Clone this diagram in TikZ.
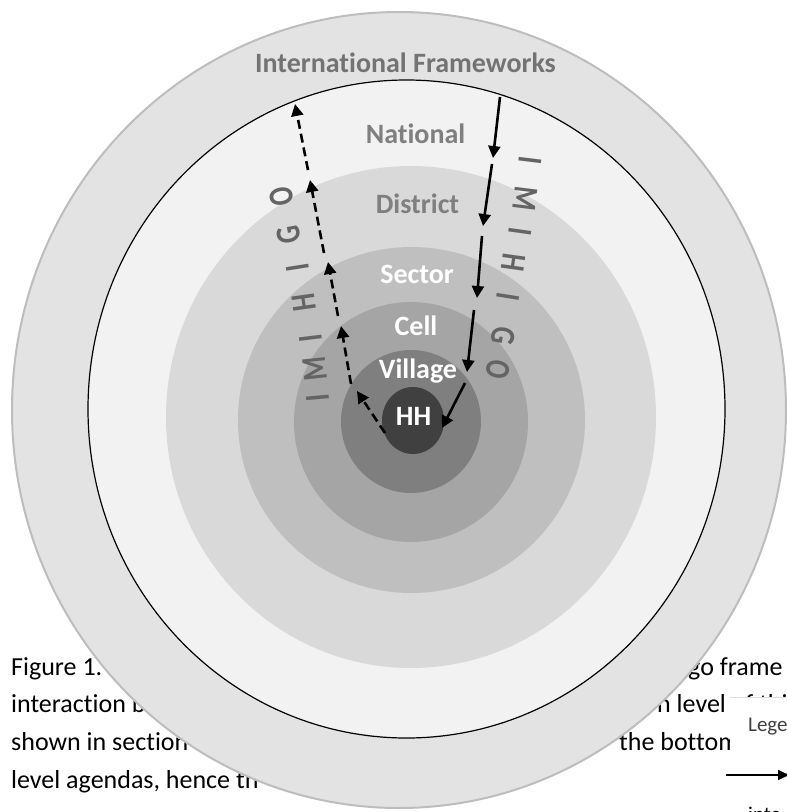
\documentclass[tikz,border=0pt]{standalone}
\usepackage{fontspec}
\setmainfont{Carlito}[Ligatures=NoCommon]
\usetikzlibrary{arrows.meta}
\definecolor{bandgray}{HTML}{E3E3E3}
\definecolor{bandedge}{HTML}{BDBDBD}
\definecolor{natgray}{HTML}{F2F2F2}
\definecolor{distgray}{HTML}{D9D9D9}
\definecolor{secgray}{HTML}{BFBFBF}
\definecolor{cellgray}{HTML}{A5A5A5}
\definecolor{villgray}{HTML}{7F7F7F}
\definecolor{hhgray}{HTML}{404040}
\definecolor{labgray}{HTML}{737373}
\definecolor{imigray}{HTML}{646464}
\definecolor{leggray}{HTML}{404040}
\begin{document}
\begin{tikzpicture}[x=1pt,y=1pt,
  body/.style={font=\fontsize{26}{30}\selectfont, text=black, anchor=base west, inner sep=0pt},
  lvl/.style={font=\bfseries\fontsize{28}{32}\selectfont, anchor=base, inner sep=0pt},
  uparrow/.style={line width=2.6pt, dash pattern=on 9pt off 5pt, -{Triangle[length=12pt,width=12pt]}},
  downarrow/.style={line width=2.6pt, -{Triangle[length=12pt,width=12pt]}},
  imi/.style={font=\bfseries\fontsize{35}{35}\selectfont, text=imigray, inner sep=0pt}]
\useasboundingbox (0,0) rectangle (787,-812);
% caption text behind the figure
\node[body] (t1) at (11,-675) {Figure 1.};
\node[body] (t2) at (11,-712) {interaction b};
\node[body] (t3) at (11,-750) {shown in section};
\node[body] (t4) at (11,-788) {level agendas, hence th};
\node[body] (r1) at (688,-675) {go frame};
\node[body] (r2) at (657,-712) {n level of thi};
\node[body] (r3) at (619,-750) {the bottom};
% rings
\fill[bandgray, draw=bandedge, line width=2pt] (399,-410) ellipse [x radius=387pt, y radius=398pt];
\fill[natgray, draw=black, line width=1.2pt] (406.5,-409) ellipse [x radius=318.5pt, y radius=329pt];
\fill[distgray] (411,-417) ellipse [x radius=245pt, y radius=251pt];
\fill[secgray] (411.5,-420) ellipse [x radius=173.5pt, y radius=173pt];
\fill[cellgray] (411,-422) ellipse [x radius=117pt, y radius=120pt];
\fill[villgray] (411,-421.5) ellipse [x radius=70pt, y radius=71.5pt];
\fill[hhgray] (413,-420.5) ellipse [x radius=31pt, y radius=33.5pt];
% level labels
\node[lvl, text=labgray] (intl) at (405.5,-72) {International Frameworks};
\node[lvl, text=villgray] (nat) at (415.5,-143) {National};
\node[lvl, text=villgray] (dist) at (417.5,-213) {District};
\node[lvl, text=white] (sec) at (417,-283) {Sector};
\node[lvl, text=white] (cell) at (416,-335) {Cell};
\node[lvl, text=white] (vill) at (418,-378) {Village};
\node[lvl, text=white] (hh) at (413.5,-425) {HH};
% upward (dashed) chain
\coordinate (a0) at (385,-433); \coordinate (a1) at (357,-391);
\coordinate (b0) at (351,-384); \coordinate (b1) at (341,-326);
\coordinate (c0) at (338,-316); \coordinate (c1) at (328,-262);
\coordinate (d0) at (324,-253); \coordinate (d1) at (310,-180);
\coordinate (e0) at (308,-170); \coordinate (e1) at (295,-104);
\draw[uparrow] (a0) -- (a1);
\draw[uparrow] (b0) -- (b1);
\draw[uparrow] (c0) -- (c1);
\draw[uparrow] (d0) -- (d1);
\draw[uparrow] (e0) -- (e1);
% downward (solid) chain
\coordinate (f0) at (500,-97);  \coordinate (f1) at (493,-158);
\coordinate (g0) at (492,-164); \coordinate (g1) at (483,-226);
\coordinate (h0) at (482,-236); \coordinate (h1) at (477,-298);
\coordinate (i0) at (474,-310); \coordinate (i1) at (467,-372);
\coordinate (j0) at (465,-383); \coordinate (j1) at (442,-428);
\draw[downarrow] (f0) -- (f1);
\draw[downarrow] (g0) -- (g1);
\draw[downarrow] (h0) -- (h1);
\draw[downarrow] (i0) -- (i1);
\draw[downarrow] (j0) -- (j1);
% IMIHIGO left (reading upward)
\node[imi, rotate=95] (li1) at (318,-398) {\scalebox{0.78}[1]{I}};
\node[imi, rotate=96] (lm) at (315,-369) {\scalebox{0.78}[1]{M}};
\node[imi, rotate=97] (li2) at (311,-338) {\scalebox{0.78}[1]{I}};
\node[imi, rotate=98] (lh) at (304,-303) {\scalebox{0.78}[1]{H}};
\node[imi, rotate=99] (li3) at (298,-268) {\scalebox{0.78}[1]{I}};
\node[imi, rotate=100] (lg) at (289,-235) {\scalebox{0.78}[1]{G}};
\node[imi, rotate=101] (lo) at (282,-197) {\scalebox{0.78}[1]{O}};
% IMIHIGO right (reading downward)
\node[imi, rotate=-97] (ri1) at (530,-160) {\scalebox{0.78}[1]{I}};
\node[imi, rotate=-97] (rm) at (525,-199) {\scalebox{0.78}[1]{M}};
\node[imi, rotate=-98] (ri2) at (520,-232) {\scalebox{0.78}[1]{I}};
\node[imi, rotate=-98] (rh) at (514,-263) {\scalebox{0.78}[1]{H}};
\node[imi, rotate=-99] (ri3) at (508,-297) {\scalebox{0.78}[1]{I}};
\node[imi, rotate=-99] (rg) at (503,-336) {\scalebox{0.78}[1]{G}};
\node[imi, rotate=-100] (ro) at (498,-370) {\scalebox{0.78}[1]{O}};
% legend box
\fill[white] (730,-697) rectangle (795,-820);
\draw[black!12, line width=0.8pt] (730,-697) -- (795,-697);
\node[font=\fontsize{21}{24}\selectfont, text=leggray, anchor=base west, inner sep=0pt] (leg) at (748,-731) {Legend};
\coordinate (la) at (726,-775); \coordinate (lb) at (789,-775);
\draw[line width=1.8pt, -{Triangle[length=11pt,width=10pt]}] (la) -- (lb);
\node[font=\fontsize{21}{24}\selectfont, text=black, anchor=base west, inner sep=0pt] (lint) at (748,-821) {inte};
\end{tikzpicture}
\end{document}
